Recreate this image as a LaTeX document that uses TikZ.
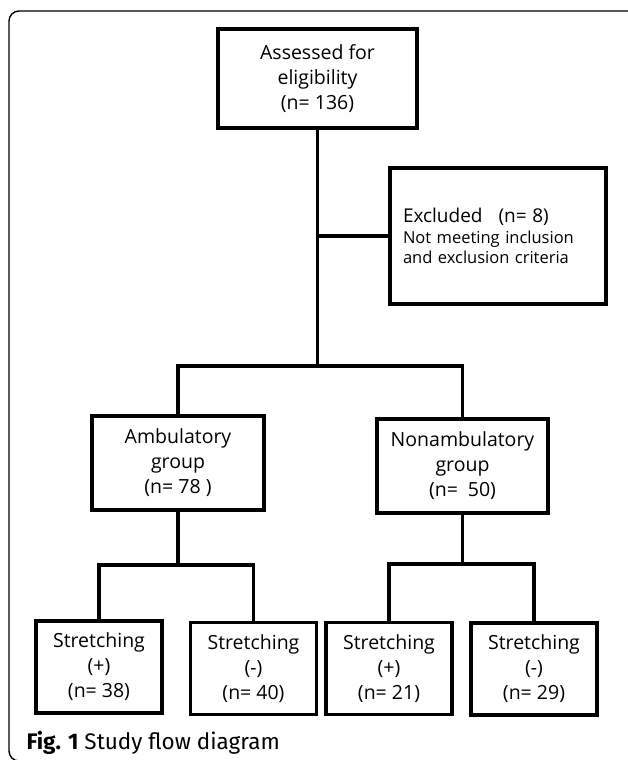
\documentclass[tikz,border=0pt]{standalone}
\usepackage{fontspec}
\setmainfont{Open Sans}
\newfontfamily\capfont{Fira Sans}
\begin{document}
\begin{tikzpicture}[x=1pt,y=-1pt,
  box/.style={draw,line width=3.4pt,align=center,inner sep=0pt,font=\fontsize{19.5}{25}\selectfont},
  smallbox/.style={box,minimum width=126pt,minimum height=92pt},
  link/.style={line width=3.4pt}]
\useasboundingbox (0,0) rectangle (627,760);
% frame
\draw[line width=1.4pt,rounded corners=10pt](630,11)--(9,11)--(9,761)--(630,761);

\node[box,minimum width=199pt,minimum height=99pt] (top) at (317.5,78.5) {Assessed for\\eligibility\\(n= 136)};
\node[box,minimum width=216pt,minimum height=136pt,text width=190pt,align=left,font=\fontsize{16.5}{20.5}\selectfont] (excl) at (498,236)
  {{\fontsize{19}{20.5}\selectfont Excluded\hspace{16pt}(n= 8)}\\Not meeting inclusion\\and exclusion criteria};

\node[box,minimum width=172pt,minimum height=94pt] (amb) at (178,463) {Ambulatory\\group\\(n= 78 )};
\node[box,minimum width=171pt,minimum height=94pt] (non) at (462.5,466) {Nonambulatory\\group\\(n=\hspace{10pt}50)};

\node[smallbox] (s1) at (99,667) {Stretching\\(+)\\(n= 38)};
\node[smallbox] (s2) at (253.5,668.5) {Stretching\\(-)\\(n= 40)};
\node[smallbox] (s3) at (389,668.5) {Stretching\\(+)\\(n= 21)};
\node[smallbox] (s4) at (534,669) {Stretching\\(-)\\(n= 29)};

\coordinate (split) at (317.5,366);
\coordinate (asplit) at (178,565);
\coordinate (nsplit) at (462.5,564);

\draw[link](top.south)--(split);
\draw[link](excl.west)--(excl.west -| top.south);
\draw[link](amb.north)|-(split)-|(non.north);
\draw[link](amb.south)--(asplit);
\draw[link](s1.north)|-(asplit)-|(s2.north);
\draw[link](non.south)--(nsplit);
\draw[link](s3.north)|-(nsplit)-|(s4.north);

\node[anchor=west,font=\capfont\fontsize{22.5}{24}\selectfont] (cap) at (23,743) {\textbf{Fig. 1} Study flow diagram};
\end{tikzpicture}
\end{document}
